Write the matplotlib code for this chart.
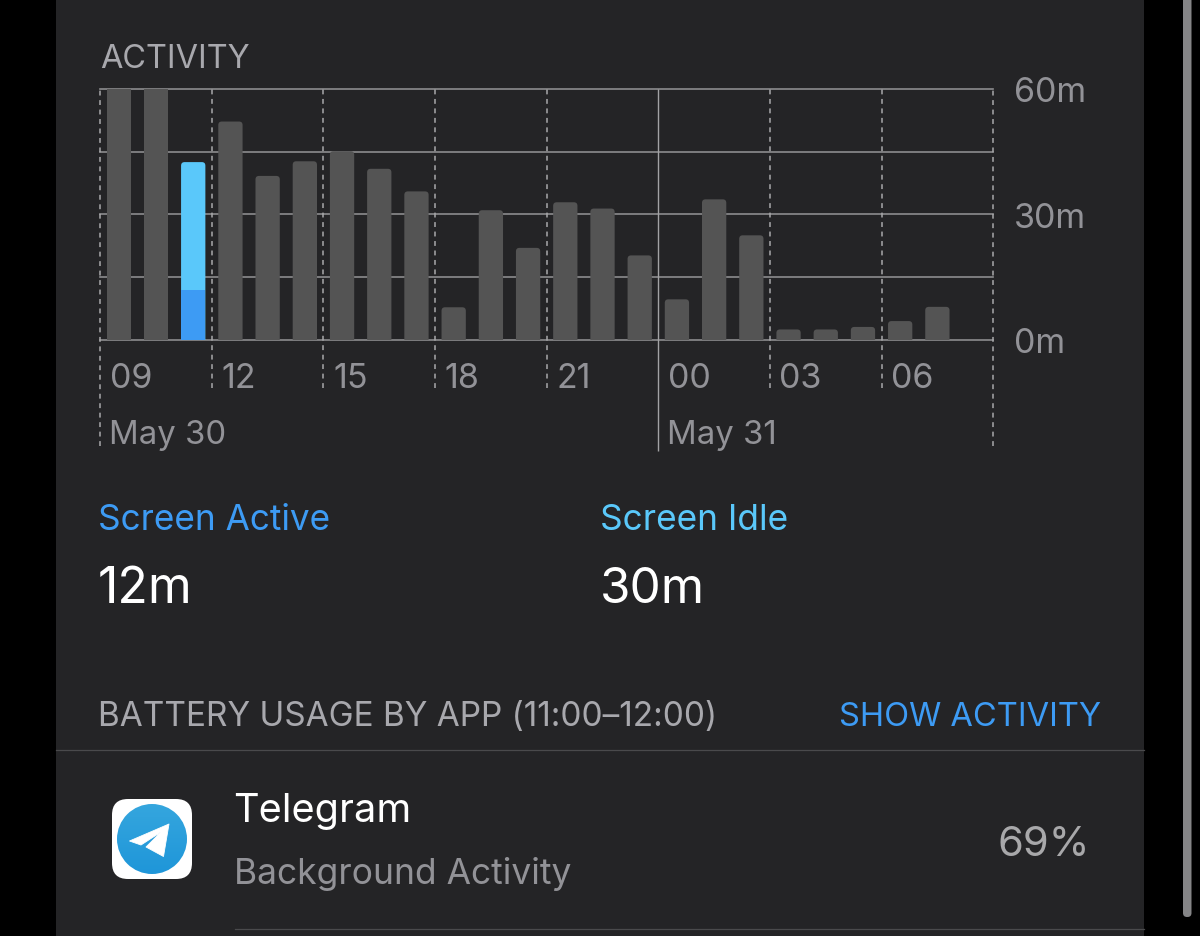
import numpy as np
import matplotlib
matplotlib.use('Agg')
import matplotlib.pyplot as plt
from matplotlib.patches import FancyBboxPatch, Circle, Polygon

plt.rcParams['font.family'] = ['Inter', 'DejaVu Sans']

# -------------------------------
# Data (minutes per hour)
# -------------------------------
hours = np.arange(24)
past_minutes = [60, 60, 0, 52.2, 39.2, 42.7, 45.1, 40.9, 35.5, 7.8, 31, 22,
                32.9, 31.4, 20.2, 9.7, 33.6, 25, 2.5, 2.5, 3.1, 4.5, 7.9, 0]
selected_hour = 2
selected_active = 12
selected_idle = 30.5
hour_ticks = [0, 3, 6, 9, 12, 15, 18, 21]
hour_labels = ['09', '12', '15', '18', '21', '00', '03', '06']
minute_ticks = [0, 30, 60]
minute_labels = ['0m', '30m', '60m']
grid_minutes = [0, 15, 30, 45, 60]

BG = '#242426'
BAR = '#545454'
GRID = '#8c8c8e'
GRAY = '#929297'
LABEL = '#a8a8ad'
BLUE = '#3d9bf4'
LIGHT_BLUE = '#5ac8fa'

W, H = 1200, 937
fig = plt.figure(figsize=(W / 100, H / 100), dpi=100, facecolor='black')

# background layer in pixel coordinates
bg = fig.add_axes([0, 0, 1, 1])
bg.set_xlim(0, W)
bg.set_ylim(H, 0)
bg.axis('off')
bg.add_patch(plt.Rectangle((56, 0), 1088, H, fc=BG, ec='none'))

# -------------------------------
# Activity chart
# -------------------------------
left, right, top, bottom = 100.2, 993.2, 89.9, 340.9
ax = fig.add_axes([left / W, 1 - bottom / H, (right - left) / W, (bottom - top) / H])
ax.set_xlim(0, 24)
ax.set_ylim(0, 60)
ax.axis('off')
px_x = (right - left) / 24
px_y = (bottom - top) / 60
bar_w = 24.3 / px_x

for m in grid_minutes:
    ax.axhline(m, color=GRID, lw=1.2, zorder=1, clip_on=False)


def rounded_bar(x, val, color, z=3):
    # top corners rounded, bottom hidden below the axis
    r = 3.5 / px_x
    box = FancyBboxPatch((x + 0.5 - bar_w / 2, -5), bar_w, val + 5,
                         boxstyle='round,pad=0,rounding_size=%f' % r,
                         mutation_aspect=px_x / px_y, fc=color, ec='none', zorder=z)
    ax.add_patch(box)


for h, v in zip(hours, past_minutes):
    if v >= 60:
        ax.bar(h + 0.5, v, width=bar_w, color=BAR, zorder=3)
    elif v > 0:
        rounded_bar(h, v, BAR)

rounded_bar(selected_hour, selected_active + selected_idle, LIGHT_BLUE)
ax.bar(selected_hour + 0.5, selected_active, width=bar_w, color=BLUE, zorder=4)

# hour separators, they run on below the axis
short_end = -(389 - bottom) / px_y
long_end = -(447 - bottom) / px_y
solid_end = -(452 - bottom) / px_y
for t, lab in zip(hour_ticks, hour_labels):
    if lab == '00':
        ax.vlines(t, solid_end, 60, color='#a2a2a4', lw=1.0, zorder=5, clip_on=False)
    elif lab == '09':
        ax.vlines(t, long_end, 60, color='#a8a8aa', lw=1.1, ls=(0, (3.2, 3)), zorder=5, clip_on=False)
    else:
        ax.vlines(t, short_end, 60, color='#a8a8aa', lw=1.1, ls=(0, (3.2, 3)), zorder=5, clip_on=False)
    ax.text(t + 9.5 / px_x, -(375.5 - bottom) / px_y, lab, color=GRAY, fontsize=24.5,
            ha='left', va='center_baseline')
ax.vlines(24, long_end, 60, color='#a8a8aa', lw=1.1, ls=(0, (3.2, 3)), zorder=5, clip_on=False)

for m, lab in zip(minute_ticks, minute_labels):
    ax.text(24 + 20.5 / px_x, m, lab, color=GRAY, fontsize=24.5, ha='left', va='center_baseline')

ax.text(9 / px_x, -(432.5 - bottom) / px_y, 'May 30', color=GRAY, fontsize=23.7, ha='left', va='center_baseline')
ax.text(15 + 9 / px_x, -(432.5 - bottom) / px_y, 'May 31', color=GRAY, fontsize=23.7, ha='left', va='center_baseline')

# -------------------------------
# Text and rows
# -------------------------------
bg.text(100, 55.5, 'ACTIVITY', color=LABEL, fontsize=23.4, ha='left', va='center_baseline')
bg.text(97.5, 517.5, 'Screen Active', color=BLUE, fontsize=25.3, ha='left', va='center_baseline')
bg.text(600.5, 517.5, 'Screen Idle', color=LIGHT_BLUE, fontsize=25.4, ha='left', va='center_baseline')
bg.text(97.5, 585, '12m', color='white', fontsize=36, ha='left', va='center_baseline')
bg.text(599.5, 585, '30m', color='white', fontsize=35.6, ha='left', va='center_baseline')
bg.text(98, 714, 'BATTERY USAGE BY APP (11:00\u201312:00)', color=LABEL, fontsize=24, ha='left', va='center_baseline')
bg.text(1101.5, 714, 'SHOW ACTIVITY', color=BLUE, fontsize=23.5, ha='right', va='center_baseline')
bg.text(233.5, 808, 'Telegram', color='white', fontsize=28.6, ha='left', va='center_baseline')
bg.text(234.5, 870.5, 'Background Activity', color=GRAY, fontsize=25.5, ha='left', va='center_baseline')
bg.text(1090.5, 841.5, '69%', color='#a8a8aa', fontsize=30, ha='right', va='center_baseline')

bg.plot([56, 1144], [750.5, 750.5], color='#4a4a4c', lw=0.9)
bg.plot([235, 1144], [929.5, 929.5], color='#4a4a4c', lw=0.9)

# app icon
bg.add_patch(FancyBboxPatch((112, 800), 80, 80, boxstyle='round,pad=0,rounding_size=16', fc='white', ec='none'))
grad = np.linspace(0, 1, 80).reshape(-1, 1)
c0, c1 = np.array([0x35, 0xa6, 0xde]), np.array([0x1f, 0x96, 0xd9])
img = (c0 + (c1 - c0) * grad[..., None]).astype(np.uint8)
im = bg.imshow(img, extent=(117, 187, 875, 805), aspect='auto', zorder=2)
im.set_clip_path(Circle((152, 840), 35, transform=bg.transData))
bg.add_patch(Polygon([(169, 825), (163.5, 857.5), (146, 848), (161, 833), (141, 846), (129.5, 842)],
                     fc='white', ec='white', lw=0.6, joinstyle='round', zorder=3))
bg.set_xlim(0, W)
bg.set_ylim(H, 0)

# scrollbar
bg.add_patch(FancyBboxPatch((1183, -20), 8.5, 938, boxstyle='round,pad=0,rounding_size=4', fc='#858587', ec='none'))

fig.savefig('out.png', dpi=100, facecolor=fig.get_facecolor())
